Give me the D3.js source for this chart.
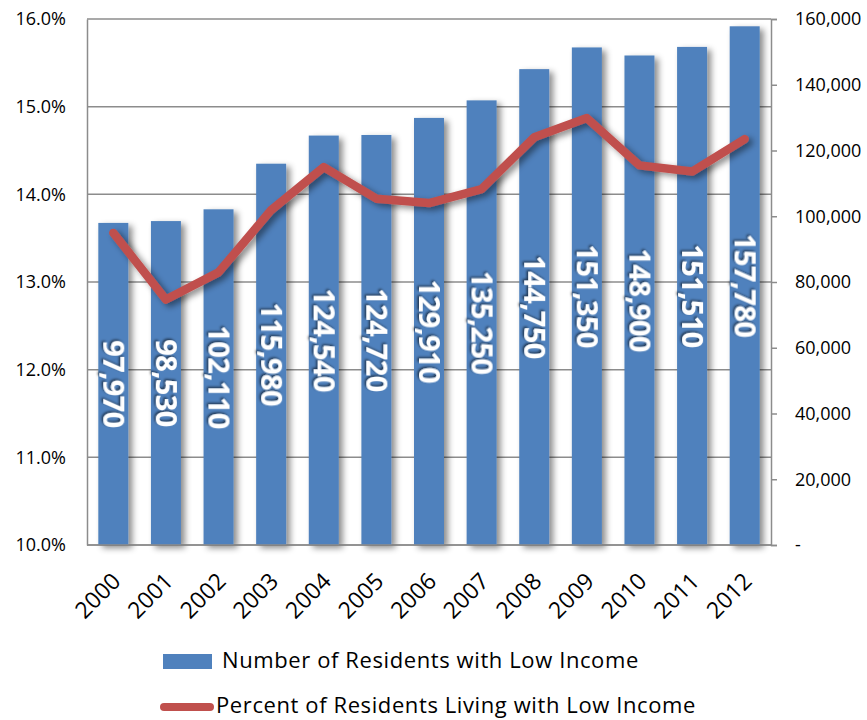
<!DOCTYPE html>
<html>
<head>
<meta charset="utf-8">
<script src="https://cdn.jsdelivr.net/npm/d3@7"></script>
<style>
  body { margin: 0; background: #fff; }
  svg { display: block; font-family: "Open Sans", "Noto Sans", sans-serif; }
</style>
</head>
<body>
<div id="chart"></div>
<script>
/* Low income residents: bars (count, right axis) + line (percent, left axis) */
const years = ["2000","2001","2002","2003","2004","2005","2006","2007","2008","2009","2010","2011","2012"];
const residents = [97970, 98530, 102110, 115980, 124540, 124720, 129910, 135250, 144750, 151350, 148900, 151510, 157780];
const percent = [13.56, 12.80, 13.11, 13.82, 14.31, 13.95, 13.90, 14.06, 14.65, 14.87, 14.33, 14.26, 14.63];
const leftTicks = [10, 11, 12, 13, 14, 15, 16];
const rightTicks = [0, 20000, 40000, 60000, 80000, 100000, 120000, 140000, 160000];
const barName = "Number of Residents with Low Income";
const lineName = "Percent of Residents Living with Low Income";

const width = 867, height = 720,
      margin = ({ top: 19, right: 96, bottom: 175, left: 87 });

const svg = d3.select("#chart")
    .append("svg")
    .attr("width", width)
    .attr("height", height)
    .attr("viewBox", [0, 0, width, height]);

// soft drop shadows like the office chart
const defs = svg.append("defs");
defs.append("filter").attr("id", "barShadow")
    .attr("x", "-20%").attr("y", "-10%").attr("width", "160%").attr("height", "130%")
  .append("feDropShadow")
    .attr("dx", 4).attr("dy", 3).attr("stdDeviation", 3)
    .attr("flood-color", "#000").attr("flood-opacity", 0.45);
defs.append("filter").attr("id", "textShadow")
    .attr("x", "-20%").attr("y", "-20%").attr("width", "150%").attr("height", "150%")
  .append("feDropShadow")
    .attr("dx", -1.5).attr("dy", 1.5).attr("stdDeviation", 0.8)
    .attr("flood-color", "#000").attr("flood-opacity", 0.6);

const x = d3.scaleBand()
    .domain(years)
    .range([margin.left, width - margin.right])
    .paddingInner(0.43)
    .paddingOuter(0.215);

const yLeft = d3.scaleLinear()
    .domain([10, 16])
    .range([height - margin.bottom, margin.top]);

const yRight = d3.scaleLinear()
    .domain([0, 160000])
    .range([height - margin.bottom, margin.top]);

const x0 = margin.left, x1 = width - margin.right;

// gridlines
svg.append("g")
    .selectAll("line")
    .data(leftTicks)
    .join("line")
    .attr("x1", x0).attr("x2", x1)
    .attr("y1", d => yLeft(d)).attr("y2", d => yLeft(d))
    .attr("stroke", "#8c8c8c")
    .attr("stroke-width", 1.5);

// left axis
const axL = svg.append("g")
    .attr("transform", `translate(${x0},0)`)
    .call(d3.axisLeft(yLeft).tickValues(leftTicks).tickSize(0).tickPadding(21)
        .tickFormat(d => d.toFixed(1) + "%"));
axL.select(".domain").attr("stroke", "#8c8c8c").attr("stroke-width", 1.5);
axL.selectAll("text").attr("font-size", 18).attr("fill", "#000")
    .attr("font-family", "'Open Sans', sans-serif");

// right axis
const axR = svg.append("g")
    .attr("transform", `translate(${x1},0)`)
    .call(d3.axisRight(yRight).tickValues(rightTicks).tickSize(6).tickPadding(18)
        .tickFormat(d => d === 0 ? "-" : d3.format(",")(d)));
axR.select(".domain").attr("stroke", "#8c8c8c").attr("stroke-width", 1.5);
axR.selectAll(".tick line").attr("stroke", "#8c8c8c").attr("stroke-width", 1.5);
axR.selectAll("text").attr("font-size", 18).attr("fill", "#000")
    .attr("font-family", "'Open Sans', sans-serif");

// bars
svg.append("g")
    .selectAll("rect")
    .data(years)
    .join("rect")
    .attr("x", d => x(d))
    .attr("width", x.bandwidth())
    .attr("y", (d, i) => yRight(residents[i]))
    .attr("height", (d, i) => yRight(0) - yRight(residents[i]))
    .attr("fill", "#4f81bd")
    .attr("filter", "url(#barShadow)");

// bottom axis line
svg.append("line")
    .attr("x1", x0).attr("x2", x1)
    .attr("y1", yLeft(10)).attr("y2", yLeft(10))
    .attr("stroke", "#8c8c8c").attr("stroke-width", 1.5);

// bar value labels, rotated, centred in the bar
svg.append("g")
    .selectAll("text")
    .data(years)
    .join("text")
    .attr("transform", (d, i) => {
        const cx = x(d) + x.bandwidth() / 2;
        const cy = (yRight(residents[i]) + yRight(0)) / 2;
        return `translate(${cx},${cy}) rotate(90)`;
    })
    .attr("text-anchor", "middle")
    .attr("dy", "0.36em")
    .attr("font-size", 29)
    .attr("font-weight", "bold")
    .attr("letter-spacing", -0.6)
    .attr("font-family", "'Open Sans', sans-serif")
    .attr("fill", "#fff")
    .attr("filter", "url(#textShadow)")
    .text((d, i) => d3.format(",")(residents[i]));

// percent line
const line = d3.line()
    .x((d, i) => x(years[i]) + x.bandwidth() / 2)
    .y(d => yLeft(d));

svg.append("path")
    .datum(percent)
    .attr("d", line)
    .attr("fill", "none")
    .attr("stroke", "#c0504d")
    .attr("stroke-width", 8.5)
    .attr("stroke-linejoin", "round")
    .attr("stroke-linecap", "round")
    .attr("filter", "url(#barShadow)");

// x labels
svg.append("g")
    .selectAll("text")
    .data(years)
    .join("text")
    .attr("transform", d => `translate(${x(d) + x.bandwidth() / 2 + 3},${yLeft(10) + 32}) rotate(-45)`)
    .attr("text-anchor", "end")
    .attr("dy", "0.35em")
    .attr("font-size", 23)
    .attr("font-family", "'Open Sans', sans-serif")
    .attr("fill", "#000")
    .text(d => d);

// legend
const legend = svg.append("g")
    .attr("font-size", 22)
    .attr("letter-spacing", 0.6)
    .attr("font-family", "'Open Sans', sans-serif");
legend.append("rect")
    .attr("x", 163).attr("y", 654)
    .attr("width", 49).attr("height", 15)
    .attr("fill", "#4f81bd");
legend.append("text")
    .attr("x", 222).attr("y", 668)
    .text(barName);
legend.append("line")
    .attr("x1", 164).attr("x2", 210)
    .attr("y1", 707).attr("y2", 707)
    .attr("stroke", "#c0504d")
    .attr("stroke-width", 8)
    .attr("stroke-linecap", "round");
legend.append("text")
    .attr("x", 216).attr("y", 713)
    .text(lineName);
</script>
</body>
</html>
